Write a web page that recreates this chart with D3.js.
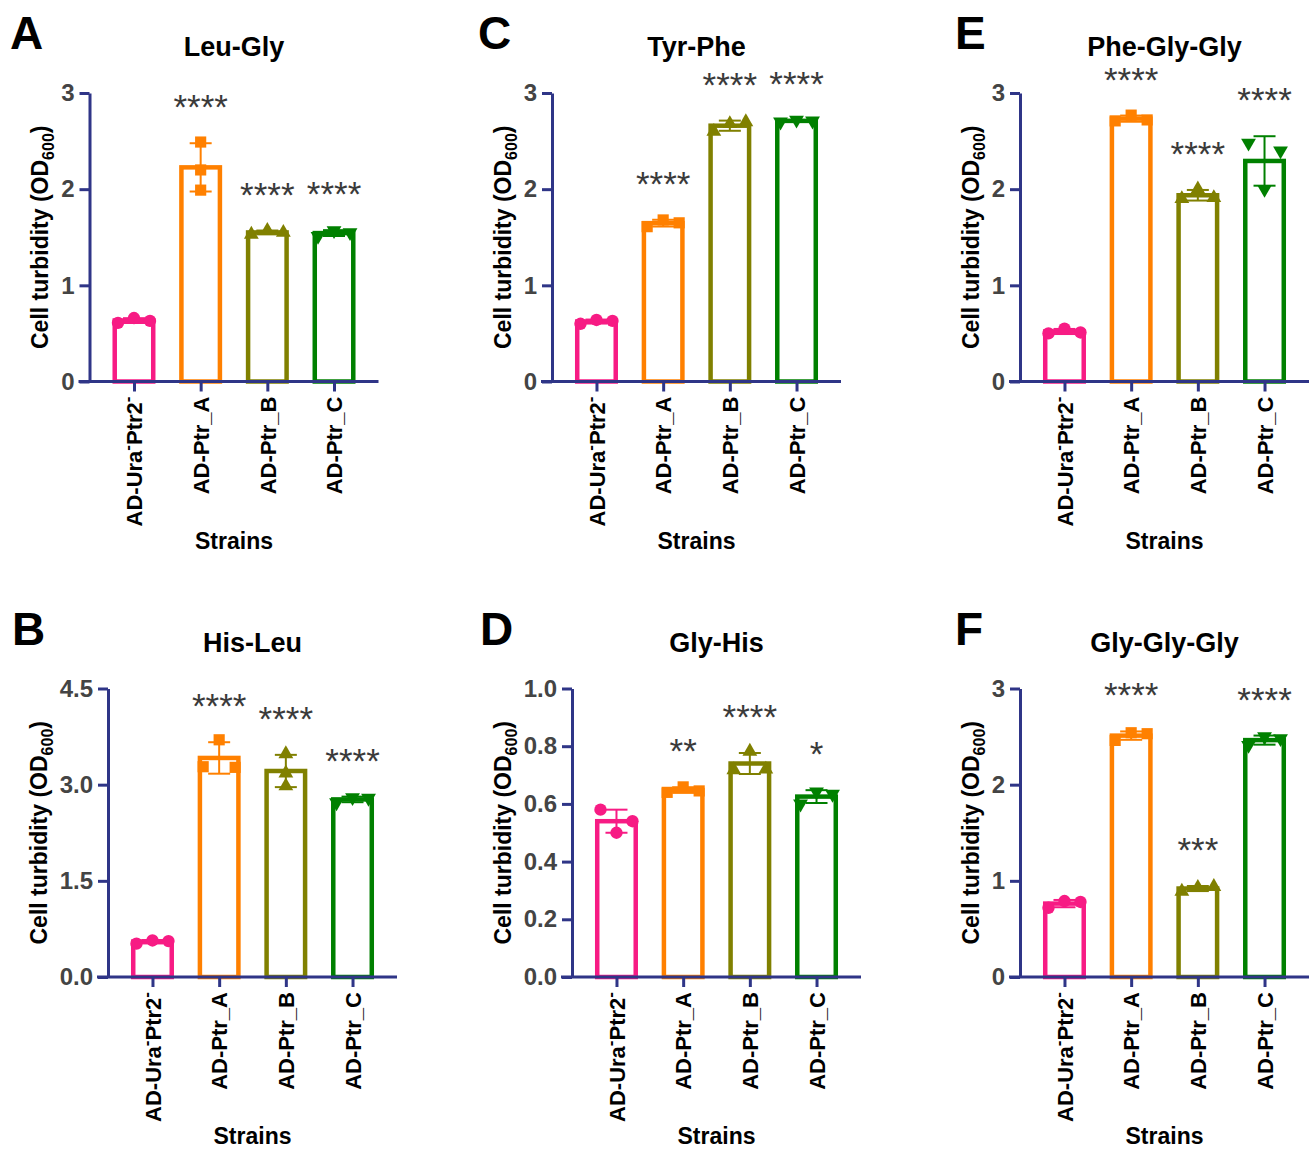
<!DOCTYPE html>
<html>
<head>
<meta charset="utf-8">
<script src="https://cdn.jsdelivr.net/npm/d3@7"></script>
<style>
  body { margin: 0; background: #fff; }
  text { font-family: "Liberation Sans", Arial, sans-serif; }
</style>
</head>
<body>
<svg id="fig" width="1312" height="1149"></svg>
<script>
// strains on every x axis, one colour / marker each
var strains = ["AD-Ura-Ptr2-", "AD-Ptr_A", "AD-Ptr_B", "AD-Ptr_C"];
var strain_colors = ["#f71b84", "#ff8000", "#808000", "#008000"];
var strain_shapes = ["circle", "square", "triangleUp", "triangleDown"];

// replicate OD600 readings (3 per strain)
var leu_gly     = [[0.61, 0.66, 0.63], [2.49, 2.20, 1.99], [1.53, 1.57, 1.55], [1.51, 1.57, 1.55]];
var his_leu     = [[0.52, 0.57, 0.56], [3.28, 3.70, 3.27], [3.48, 3.18, 2.98], [2.72, 2.80, 2.79]];
var tyr_phe     = [[0.60, 0.64, 0.63], [1.61, 1.68, 1.65], [2.60, 2.68, 2.70], [2.70, 2.72, 2.71]];
var gly_his     = [[0.58, 0.50, 0.54], [0.64, 0.659, 0.645], [0.718, 0.782, 0.72], [0.60, 0.642, 0.634]];
var phe_gly_gly = [[0.50, 0.55, 0.51], [2.71, 2.77, 2.72], [1.90, 2.00, 1.91], [2.48, 2.00, 2.40]];
var gly_gly_gly = [[0.72, 0.79, 0.78], [2.46, 2.54, 2.53], [0.89, 0.93, 0.94], [2.41, 2.50, 2.48]];

// significance marks vs. the control strain
var leu_gly_stars     = ["", "****", "****", "****"];
var his_leu_stars     = ["", "****", "****", "****"];
var tyr_phe_stars     = ["", "****", "****", "****"];
var gly_his_stars     = ["", "**", "****", "*"];
var phe_gly_gly_stars = ["", "****", "****", "****"];
var gly_gly_gly_stars = ["", "****", "***", "****"];

// y tick values
var ticks_int     = [0, 1, 2, 3];
var ticks_his_leu = [0, 1.5, 3.0, 4.5];
var ticks_gly_his = [0, 0.2, 0.4, 0.6, 0.8, 1.0];

var axis_color = "#2f3587";
var plot_w = 289, plot_h = 288.5;
var bar_w = 38.5, jitter = 16, cap_w = 22;

var panels = [
  {letter: "A", title: "Leu-Gly",     values: leu_gly,     stars: leu_gly_stars,     ticks: ticks_int,     fmt: d3.format("d"),   col: 10,  ax: 89.5, top: 93},
  {letter: "B", title: "His-Leu",     values: his_leu,     stars: his_leu_stars,     ticks: ticks_his_leu, fmt: d3.format(".1f"), col: 12,  ax: 108,  top: 688.5},
  {letter: "C", title: "Tyr-Phe",     values: tyr_phe,     stars: tyr_phe_stars,     ticks: ticks_int,     fmt: d3.format("d"),   col: 478, ax: 552,  top: 93},
  {letter: "D", title: "Gly-His",     values: gly_his,     stars: gly_his_stars,     ticks: ticks_gly_his, fmt: d3.format(".1f"), col: 480, ax: 572,  top: 688.5},
  {letter: "E", title: "Phe-Gly-Gly", values: phe_gly_gly, stars: phe_gly_gly_stars, ticks: ticks_int,     fmt: d3.format("d"),   col: 955, ax: 1020, top: 93},
  {letter: "F", title: "Gly-Gly-Gly", values: gly_gly_gly, stars: gly_gly_gly_stars, ticks: ticks_int,     fmt: d3.format("d"),   col: 955, ax: 1020, top: 688.5}
];

var svg = d3.select("#fig");
svg.append("rect").attr("width", 1312).attr("height", 1149).attr("fill", "#fff");

// spread replicates sideways only when they would overlap (like a column scatter)
function slots(vals, y) {
  var px = vals.map(y);
  var order = d3.range(vals.length).sort(function(a, b) { return px[a] - px[b]; });
  var groups = [], cur = [order[0]];
  for (var k = 1; k < order.length; k++) {
    if (px[order[k]] - px[order[k - 1]] < 12) cur.push(order[k]);
    else { groups.push(cur); cur = [order[k]]; }
  }
  groups.push(cur);
  var out = vals.map(function() { return 0; });
  var pattern = {1: [0], 2: [-1, 1], 3: [-1, 0, 1]};
  groups.forEach(function(gr) {
    gr.sort(d3.ascending).forEach(function(i, j) { out[i] = pattern[gr.length][j] * jitter; });
  });
  return out;
}

function marker(shape) {
  if (shape == "circle") return d3.symbol().type(d3.symbolCircle).size(120)();
  if (shape == "square") return d3.symbol().type(d3.symbolSquare).size(125)();
  return d3.symbol().type(d3.symbolTriangle).size(95)();
}

function drawPanel(p) {
  var g = svg.append("g");
  var bottom = p.top + plot_h;
  var x = d3.scalePoint().domain(strains).range([p.ax, p.ax + plot_w]).padding(0.667);
  var y = d3.scaleLinear().domain([0, d3.max(p.ticks)]).range([bottom, p.top]);

  var rows = p.values.map(function(v, i) {
    return {name: strains[i], color: strain_colors[i], shape: strain_shapes[i], star: p.stars[i],
            v: v, mean: d3.mean(v), sd: d3.deviation(v)};
  });

  // bars
  g.selectAll("rect.bar").data(rows).enter().append("rect")
    .attr("class", "bar")
    .attr("x", function(d) { return x(d.name) - bar_w / 2; })
    .attr("y", function(d) { return y(d.mean); })
    .attr("width", bar_w)
    .attr("height", function(d) { return bottom - y(d.mean); })
    .attr("fill", "#fff")
    .attr("stroke", function(d) { return d.color; })
    .attr("stroke-width", 4.5);

  // error bars (mean +/- SD)
  var eb = g.selectAll("g.err").data(rows).enter().append("g").attr("class", "err")
    .attr("stroke", function(d) { return d.color; }).attr("stroke-width", 2);
  eb.append("line")
    .attr("x1", function(d) { return x(d.name); }).attr("x2", function(d) { return x(d.name); })
    .attr("y1", function(d) { return y(d.mean - d.sd); }).attr("y2", function(d) { return y(d.mean + d.sd); });
  [-1, 1].forEach(function(s) {
    eb.append("line")
      .attr("x1", function(d) { return x(d.name) - cap_w / 2; }).attr("x2", function(d) { return x(d.name) + cap_w / 2; })
      .attr("y1", function(d) { return y(d.mean + s * d.sd); }).attr("y2", function(d) { return y(d.mean + s * d.sd); });
  });

  // replicate points
  rows.forEach(function(d) {
    var off = slots(d.v, y);
    g.selectAll(null).data(d.v).enter().append("path")
      .attr("d", marker(d.shape))
      .attr("fill", d.color)
      .attr("transform", function(v, j) {
        return "translate(" + (x(d.name) + off[j]) + "," + y(v) + ")" + (d.shape == "triangleDown" ? " rotate(180)" : "");
      });
  });

  // significance stars
  g.selectAll("text.star").data(rows).enter().append("text")
    .attr("class", "star")
    .attr("x", function(d) { return x(d.name); })
    .attr("y", function(d) { return y(d.mean + d.sd) - 24; })
    .attr("text-anchor", "middle")
    .attr("font-size", 35)
    .attr("fill", "#3a3a3a")
    .text(function(d) { return d.star; });

  // y axis
  var gy = g.append("g").attr("transform", "translate(" + p.ax + ",0)")
    .call(d3.axisLeft(y).tickValues(p.ticks).tickFormat(p.fmt).tickSize(10).tickPadding(5).tickSizeOuter(0));
  gy.select(".domain").attr("stroke", axis_color).attr("stroke-width", 3);
  gy.selectAll(".tick line").attr("stroke", axis_color).attr("stroke-width", 3);
  gy.selectAll(".tick text").attr("font-size", 24).attr("font-weight", "bold").attr("fill", "#444")
    .attr("font-family", "Liberation Sans, Arial, sans-serif");
  var maxw = d3.max(gy.selectAll(".tick text").nodes(), function(n) { return n.getComputedTextLength(); });

  // x axis
  var gx = g.append("g").attr("transform", "translate(0," + bottom + ")")
    .call(d3.axisBottom(x).tickSize(10).tickPadding(5));
  gx.select(".domain").remove();
  gx.append("line").attr("x1", p.ax - 11).attr("x2", p.ax + plot_w)
    .attr("stroke", axis_color).attr("stroke-width", 3);
  gx.selectAll(".tick line").attr("stroke", axis_color).attr("stroke-width", 3);
  gx.selectAll(".tick text")
    .attr("transform", "rotate(-90)")
    .attr("text-anchor", "end")
    .attr("x", -15).attr("y", 0).attr("dy", "0.35em")
    .attr("font-size", 22).attr("font-weight", "bold").attr("fill", "#000")
    .attr("font-family", "Liberation Sans, Arial, sans-serif")
    .each(function(d) {
      if (d != strains[0]) return;
      var t = d3.select(this).text(null);
      t.append("tspan").text("AD-Ura");
      t.append("tspan").attr("font-size", 17).attr("dy", -9).text("-");
      t.append("tspan").attr("dy", 9).text("Ptr2");
      t.append("tspan").attr("font-size", 17).attr("dy", -9).text("-");
    });

  // y axis title
  var yl = g.append("text")
    .attr("transform", "translate(" + (p.ax - 36 - maxw) + "," + (p.top + plot_h / 2) + ") rotate(-90)")
    .attr("text-anchor", "middle").attr("dy", "0.35em")
    .attr("font-size", 23).attr("font-weight", "bold").attr("fill", "#000");
  yl.append("tspan").text("Cell turbidity (OD");
  yl.append("tspan").attr("font-size", 16).attr("dy", 6).text("600");
  yl.append("tspan").attr("dy", -6).text(")");

  // titles
  g.append("text").attr("x", p.ax + plot_w / 2).attr("y", p.top - 37)
    .attr("text-anchor", "middle").attr("font-size", 27).attr("font-weight", "bold").attr("fill", "#000")
    .text(p.title);
  g.append("text").attr("x", p.ax + plot_w / 2).attr("y", bottom + 167)
    .attr("text-anchor", "middle").attr("font-size", 23).attr("font-weight", "bold").attr("fill", "#000")
    .text("Strains");
  g.append("text").attr("x", p.col).attr("y", p.top - 44)
    .attr("font-size", 46).attr("font-weight", "bold").attr("fill", "#000")
    .text(p.letter);
}

panels.forEach(drawPanel);
</script>
</body>
</html>
